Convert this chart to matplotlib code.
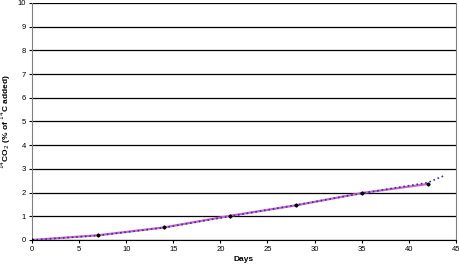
import matplotlib.pyplot as plt

plt.rcParams['font.family'] = ['Liberation Sans', 'DejaVu Sans']

days = [0, 7, 14, 21, 28, 35, 42]
co2 = [0.0, 0.2, 0.53, 1.02, 1.46, 1.98, 2.36]

# trend line
trend_days = [0, 7, 14, 21, 28, 35, 42, 43.8]
trend_co2 = [0.0, 0.19, 0.52, 1.0, 1.47, 1.97, 2.42, 2.72]

fig = plt.figure(figsize=(4.6, 2.71), dpi=100)
ax = fig.add_axes([0.0696, 0.1144, 0.9214, 0.8746])

ax.plot(days, co2, '-', color='#cc66cc', lw=1.6, zorder=3)
ax.plot(trend_days, trend_co2, ':', color='#333399', lw=1.2, zorder=4)
ax.plot(days, co2, 'D', color='black', ms=1.6, zorder=5)

ax.set_xlim(0, 45)
ax.set_ylim(0, 10)
ax.set_xticks(range(0, 46, 5))
ax.set_yticks(range(0, 11))
ax.yaxis.grid(True, color='black', lw=0.9)
ax.set_axisbelow(True)

for s in ['left', 'right']:
    ax.spines[s].set_color('#808080')
ax.spines['top'].set_visible(False)
ax.spines['bottom'].set_color('black')
ax.tick_params(labelsize=5.5, length=2.5, width=0.8, pad=2)

ax.set_xlabel('Days', fontsize=6, fontweight='bold', labelpad=2)
ax.set_ylabel('$^{14}$CO$_2$ (% of $^{14}$C added)', fontsize=6, fontweight='bold', labelpad=3)

fig.savefig('out.png', dpi=100)
